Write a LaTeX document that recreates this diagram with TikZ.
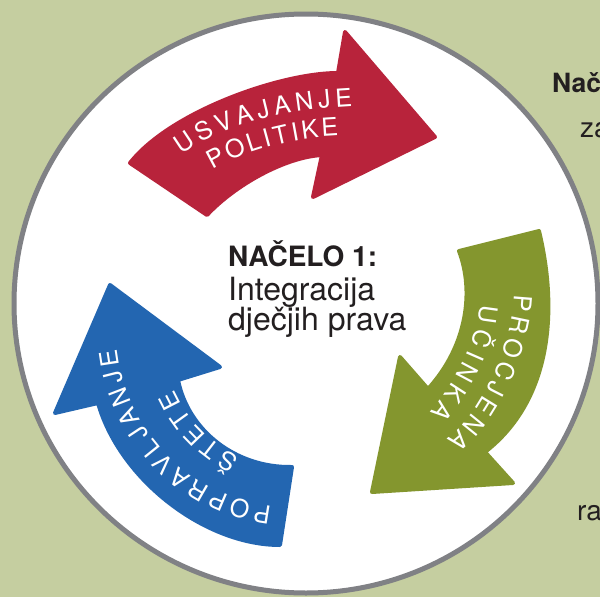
\documentclass[tikz,border=0pt]{standalone}
\usepackage{fontspec}
\setmainfont{TeX Gyre Heros}
\usetikzlibrary{decorations.text}
\definecolor{bgcol}{RGB}{197,206,160}
\definecolor{ringcol}{RGB}{128,129,133}
\definecolor{redarr}{RGB}{184,35,59}
\definecolor{greenarr}{RGB}{132,150,46}
\definecolor{bluearr}{RGB}{35,102,177}
\definecolor{txtcol}{RGB}{35,31,32}
\newcommand\arrfont{\fontsize{25}{25}\selectfont}
\begin{document}
\begin{tikzpicture}[x=1pt,y=-1pt,
  arrowshape/.style={fill=#1, draw=#1, line width=4pt, line join=round},
  plaintext/.style={anchor=base west, inner sep=0pt, text=txtcol},
  curvedtext/.style={decorate, decoration={text along path, text align={fit to path}, raise=-9pt, text={#1}}}]
\useasboundingbox (0,0) rectangle (600,597);
\clip (0,0) rectangle (600,597);
\fill[bgcol] (0,0) rectangle (600,597);
% outside text
\node[plaintext, font=\bfseries\fontsize{26.5}{26.5}\selectfont] (nac) at (552,92) {Nač};
\node[plaintext, font=\fontsize{28}{28}\selectfont] (za) at (580,137) {za};
\node[plaintext, font=\fontsize{28}{28}\selectfont] (ra) at (577,520) {ra};
% main circle
\path[fill=white, draw=ringcol, line width=5pt] (306,303.5) ellipse [x radius=292pt, y radius=289.5pt];
% arrows
\path[arrowshape=redarr] (130,163) .. controls (170,112) and (280,73) .. (338,73) -- (345,32) -- (435,137) -- (313,197) -- (322,155) .. controls (285,157) and (235,185) .. (207,215) -- cycle;
\path[arrowshape=greenarr] (539,231) .. controls (558,310) and (552,400) .. (485,452) -- (513,483) -- (372,492) -- (400,357) -- (428,389) .. controls (468,345) and (474,290) .. (459,251) -- cycle;
\path[arrowshape=bluearr] (280,545) .. controls (205,545) and (120,480) .. (98,403) -- (55,413) -- (110,285) -- (220,367) -- (178,380) .. controls (188,430) and (235,468) .. (292,467) -- cycle;
% arrow labels
\path[curvedtext={|\arrfont\color{white}|USVAJANJE}] (177,147) .. controls (227,110) and (297,100) .. (352,97);
\path[curvedtext={|\arrfont\color{white}|POLITIKE}] (208,162) .. controls (245,140) and (300,128) .. (338,127);
\path[curvedtext={|\arrfont\color{white}|PROCJENA}] (523,295) .. controls (522,345) and (490,420) .. (452,446);
\path[curvedtext={|\arrfont\color{white}|UČINKA}] (489,306) .. controls (488,340) and (462,390) .. (437,418);
\path[curvedtext={|\arrfont\color{white}|POPRAVLJANJE}] plot[variable=\t, domain=98.4:175.6, samples=45] ({297+(181+8*(\t-98.4)/77.2)*cos(\t)}, {336+(181+8*(\t-98.4)/77.2)*sin(\t)});
\path[curvedtext={|\arrfont\color{white}|ŠTETE}] plot[variable=\t, domain=115.7:156.3, samples=30] ({297+143*cos(\t)}, {336+143*sin(\t)});
% centre text
\node[plaintext, font=\bfseries\fontsize{28}{28}\selectfont] (title) at (228,266.5) {NAČELO 1:};
\node[plaintext, font=\fontsize{32}{32}\selectfont] (line1) at (228,300.5) {Integracija};
\node[plaintext, font=\fontsize{32}{32}\selectfont] (line2) at (228,330.5) {dječjih prava};
\end{tikzpicture}
\end{document}
